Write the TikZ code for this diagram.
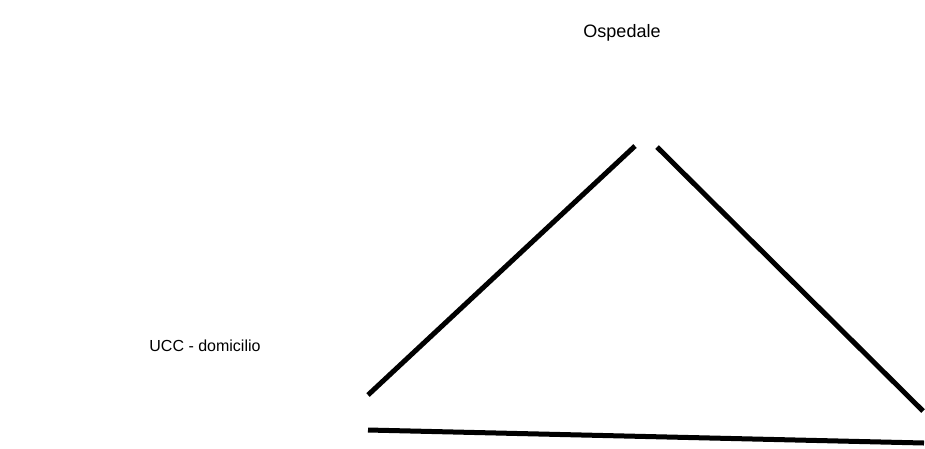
\documentclass[tikz,border=0pt]{standalone}
\usepackage{fontspec}
\setmainfont{Liberation Sans}
\begin{document}
\begin{tikzpicture}[x=1pt,y=-1pt,
  thick line/.style={line width=5pt,line cap=butt},
  lbl/.style={inner sep=0pt,anchor=center}]
\useasboundingbox (0,0) rectangle (925,448);
\node[lbl,font=\fontsize{18}{20}\selectfont] (osp) at (622,33) {Ospedale};
\node[lbl,font=\fontsize{16}{18}\selectfont] (ucc) at (205,346) {UCC - domicilio};
\coordinate (l1) at (368,395);
\coordinate (l2) at (635,146);
\coordinate (r1) at (657,147);
\coordinate (r2) at (923,411);
\coordinate (b1) at (368,430);
\coordinate (b2) at (924,443);
\draw[thick line] (l1) -- (l2);
\draw[thick line] (r1) -- (r2);
\draw[thick line] (b1) -- (b2);
\end{tikzpicture}
\end{document}
